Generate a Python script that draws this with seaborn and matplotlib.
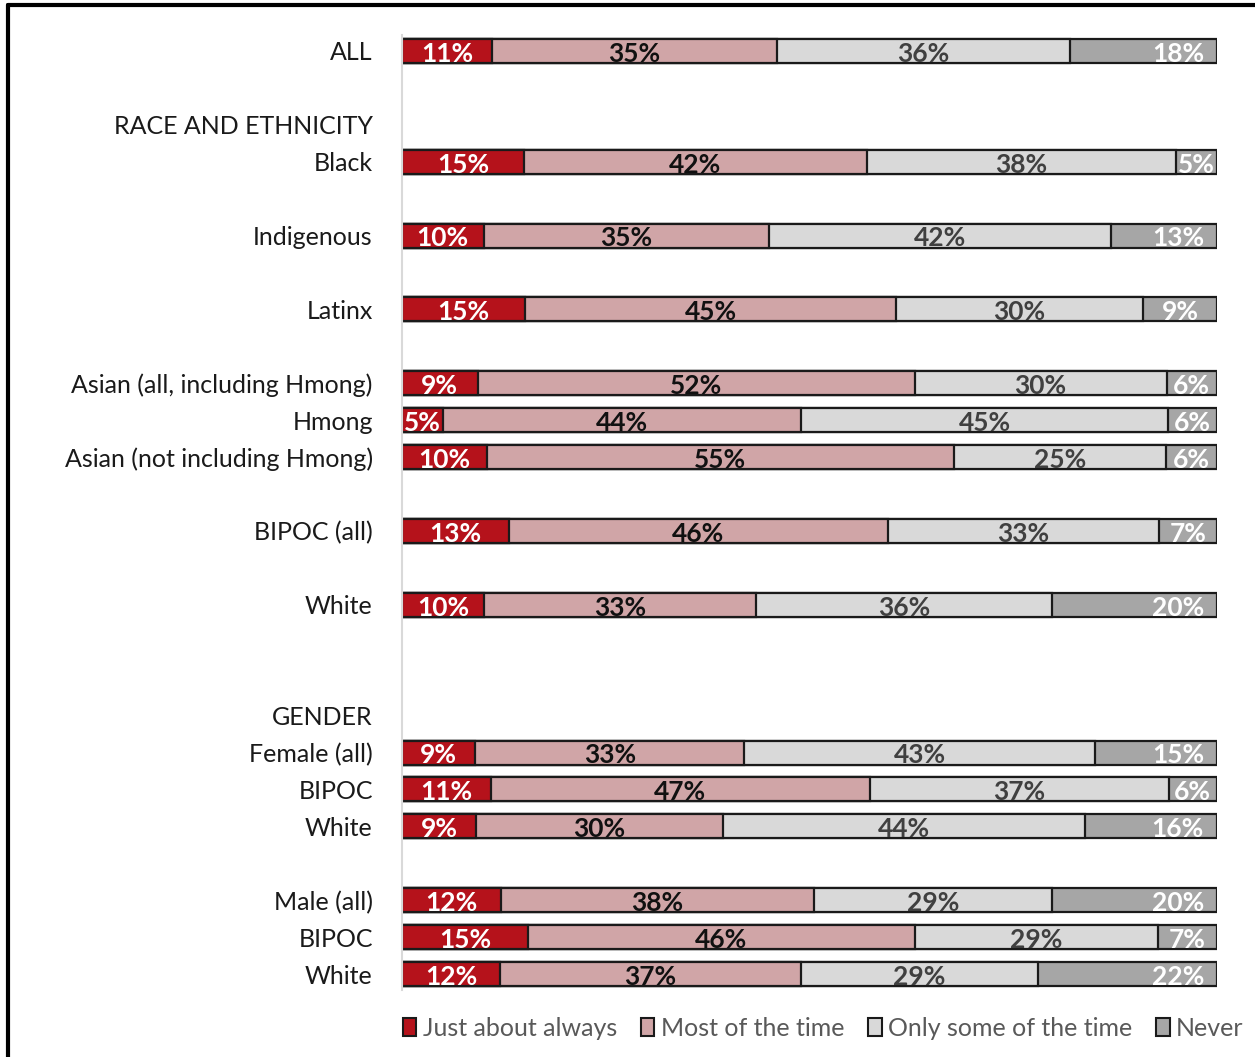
import numpy as np
import pandas as pd
import seaborn as sns
import matplotlib.pyplot as plt
from matplotlib.lines import Line2D
from matplotlib.patches import Patch

# rows: label and position (blank slots keep the grouping gaps)
row_labels = ["ALL", "RACE AND ETHNICITY", "Black", "Indigenous", "Latinx",
              "Asian (all, including Hmong)", "Hmong", "Asian (not including Hmong)",
              "BIPOC (all)", "White", "GENDER", "Female (all)", "BIPOC", "White",
              "Male (all)", "BIPOC", "White"]
row_pos = [0, 2, 3, 5, 7, 9, 10, 11, 13, 15, 18, 19, 20, 21, 23, 24, 25]
has_bar = [True, False, True, True, True, True, True, True, True, True,
           False, True, True, True, True, True, True]

categories = ["Just about always", "Most of the time", "Only some of the time", "Never"]
just_about_always = [11, 15, 10, 15, 9, 5, 10, 13, 10, 9, 11, 9, 12, 15, 12]
most_of_the_time = [35, 42, 35, 45, 52, 44, 55, 46, 33, 33, 47, 30, 38, 46, 37]
only_some = [36, 38, 42, 30, 30, 45, 25, 33, 36, 43, 37, 44, 29, 29, 29]
never = [18, 5, 13, 9, 6, 6, 6, 7, 20, 15, 6, 16, 20, 7, 22]

colors = ["#B5121B", "#D0A5A7", "#D9D9D9", "#A6A6A6"]
text_colors = ["white", "#111111", "#404040", "white"]

sns.set_theme(style="white")
plt.rcParams["font.family"] = ["Lato", "DejaVu Sans"]

bar_pos = [p for p, b in zip(row_pos, has_bar) if b]
vals = np.array([just_about_always, most_of_the_time, only_some, never], dtype=float).T
share = vals / vals.sum(axis=1, keepdims=True) * 100  # 100% stacked
cum = np.cumsum(share, axis=1)

df = pd.DataFrame({"pos": bar_pos})
for i, c in enumerate(categories):
    df[c] = cum[:, i]

fig = plt.figure(figsize=(12.55, 10.57), dpi=100)
ax = fig.add_axes([402 / 1255, 1 - 990 / 1057, (1217 - 402) / 1255, (990 - 35) / 1057])

# draw from the full bar down so each layer covers the next
for i in range(3, -1, -1):
    sns.barplot(data=df, x=categories[i], y="pos", orient="h", native_scale=True,
                color=colors[i], saturation=1, edgecolor="#1a1a1a", linewidth=1.6,
                width=0.65, ax=ax)

# segment labels
for r, p in enumerate(bar_pos):
    start = 0.0
    for i in range(4):
        w = share[r, i]
        txt = f"{int(vals[r, i])}%"
        if i == 3 and w >= 10:
            ax.text(98.4, p + 0.08, txt, ha="right", va="center", color=text_colors[i],
                    fontsize=19, fontweight="bold")
        else:
            ax.text(start + w / 2, p + 0.08, txt, ha="center", va="center",
                    color=text_colors[i], fontsize=19, fontweight="bold")
        start += w

ax.set_xlim(0, 100)
ax.set_ylim(25.43, -0.43)
ax.set_yticks(row_pos)
ax.set_yticklabels(row_labels, fontsize=18, color="#1a1a1a")
ax.tick_params(axis="y", length=0, pad=21)
ax.set_xticks([])
ax.set_xlabel("")
ax.set_ylabel("")
for s in ["top", "right", "bottom"]:
    ax.spines[s].set_visible(False)
ax.spines["left"].set_color("#D9D9D9")
ax.spines["left"].set_linewidth(1.5)

handles = [Patch(facecolor=c, edgecolor="#1a1a1a", linewidth=1.5) for c in colors]
leg = fig.legend(handles, categories, loc="center", ncol=4,
                 bbox_to_anchor=(823 / 1255, 1 - 1028 / 1057), frameon=False,
                 fontsize=18, handlelength=0.55, handleheight=0.7, handletextpad=0.25,
                 columnspacing=0.95)
for t in leg.get_texts():
    t.set_color("#595959")

# outer frame (top and left edges visible)
fig.add_artist(Line2D([8 / 1255, 1], [1 - 5 / 1057, 1 - 5 / 1057], color="black", lw=3,
                      transform=fig.transFigure))
fig.add_artist(Line2D([8 / 1255, 8 / 1255], [0, 1 - 5 / 1057], color="black", lw=3,
                      transform=fig.transFigure))

fig.savefig("out.png", dpi=100)
